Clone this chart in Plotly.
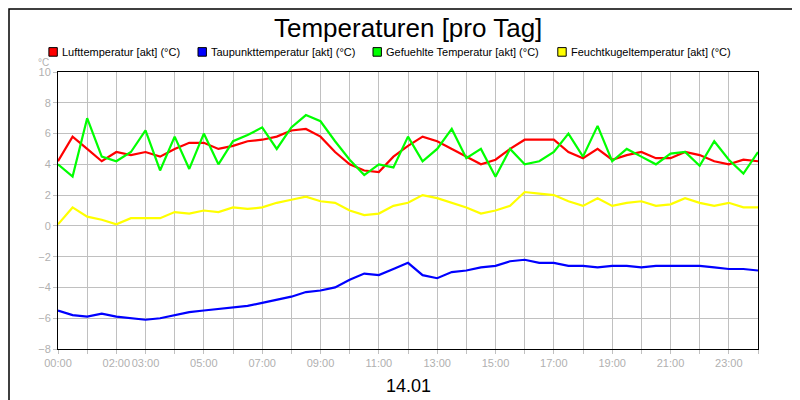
import numpy as np
import plotly.graph_objects as go

hours = np.arange(0, 24.01, 0.5)

luft = [4.2, 5.8, 5.0, 4.2, 4.8, 4.6, 4.8, 4.5, 5.0, 5.4, 5.4, 5.0, 5.2, 5.5, 5.6, 5.8, 6.2,
        6.3, 5.8, 4.8, 4.0, 3.6, 3.5, 4.5, 5.2, 5.8, 5.5, 5.0, 4.5, 4.0, 4.3, 5.0, 5.6, 5.6,
        5.6, 4.8, 4.4, 5.0, 4.3, 4.6, 4.8, 4.4, 4.4, 4.8, 4.6, 4.2, 4.0, 4.3, 4.2]
taupunkt = [-5.5, -5.8, -5.9, -5.7, -5.9, -6.0, -6.1, -6.0, -5.8, -5.6, -5.5, -5.4, -5.3,
            -5.2, -5.0, -4.8, -4.6, -4.3, -4.2, -4.0, -3.5, -3.1, -3.2, -2.8, -2.4, -3.2,
            -3.4, -3.0, -2.9, -2.7, -2.6, -2.3, -2.2, -2.4, -2.4, -2.6, -2.6, -2.7, -2.6,
            -2.6, -2.7, -2.6, -2.6, -2.6, -2.6, -2.7, -2.8, -2.8, -2.9]
gefuehlt = [4.0, 3.2, 7.0, 4.5, 4.2, 4.8, 6.2, 3.6, 5.8, 3.7, 6.0, 4.0, 5.5, 5.9, 6.4, 5.0,
            6.4, 7.2, 6.8, 5.5, 4.3, 3.3, 4.0, 3.8, 5.8, 4.2, 5.0, 6.3, 4.4, 5.0, 3.2, 5.0,
            4.0, 4.2, 4.8, 6.0, 4.5, 6.5, 4.2, 5.0, 4.5, 4.0, 4.7, 4.8, 3.9, 5.5, 4.3, 3.4, 4.8]
feucht = [0.1, 1.2, 0.6, 0.4, 0.1, 0.5, 0.5, 0.5, 0.9, 0.8, 1.0, 0.9, 1.2, 1.1, 1.2, 1.5,
          1.7, 1.9, 1.6, 1.5, 1.0, 0.7, 0.8, 1.3, 1.5, 2.0, 1.8, 1.5, 1.2, 0.8, 1.0, 1.3,
          2.2, 2.1, 2.0, 1.6, 1.3, 1.8, 1.3, 1.5, 1.6, 1.3, 1.4, 1.8, 1.5, 1.3, 1.5, 1.2, 1.2]

tick_hours = [0, 2, 3, 5, 7, 9, 11, 13, 15, 17, 19, 21, 23]
tick_text = ["%02d:00" % h for h in tick_hours]

series = [
    ("Lufttemperatur [akt] (°C)", luft, "#ff0000"),
    ("Taupunkttemperatur [akt] (°C)", taupunkt, "#0000ff"),
    ("Gefuehlte Temperatur [akt] (°C)", gefuehlt, "#00ff00"),
    ("Feuchtkugeltemperatur [akt] (°C)", feucht, "#ffff00"),
]
draw_order = [3, 1, 0, 2]
legend_x = [-0.013, 0.2, 0.45, 0.714]  # paper x of legend squares

fig = go.Figure()
for i in draw_order:
    name, vals, col = series[i]
    fig.add_trace(go.Scatter(x=hours, y=vals, mode="lines", name=name,
                             line=dict(color=col, width=2.2), showlegend=False))

shapes = [dict(type="rect", xref="paper", yref="paper", x0=-0.07, x1=1.07, y0=-0.209, y1=1.227,
               line=dict(color="black", width=1.5))]
annotations = [
    dict(text="Temperaturen [pro Tag]", xref="paper", yref="paper", x=0.5, y=1.16, showarrow=False,
         yanchor="middle", font=dict(size=26, color="black")),
    dict(text="°C", xref="paper", yref="paper", x=-0.01, y=1.06, showarrow=False,
         xanchor="right", font=dict(size=10, color="#b0b0b0")),
    dict(text="14.01", xref="paper", yref="paper", x=0.5, y=-0.135, showarrow=False,
         yanchor="middle", font=dict(size=18, color="black")),
]
for (name, vals, col), lx in zip(series, legend_x):
    shapes.append(dict(type="rect", xref="paper", yref="paper", x0=lx, x1=lx + 0.012,
                       y0=1.057, y1=1.088, fillcolor=col, line=dict(color="black", width=1)))
    annotations.append(dict(text=name, xref="paper", yref="paper", x=lx + 0.016, y=1.072,
                            xanchor="left", yanchor="middle", showarrow=False,
                            font=dict(size=11, color="black")))

fig.update_layout(
    width=800, height=400,
    margin=dict(l=50, r=50, t=64, b=59),
    paper_bgcolor="white", plot_bgcolor="white",
    font=dict(family="Liberation Sans, Arial", color="black"),
    showlegend=False,
    xaxis=dict(range=[0, 24], tickvals=tick_hours, ticktext=tick_text, tickangle=0, showgrid=True,
               gridcolor="#c0c0c0", showline=True, linecolor="black", mirror=True,
               ticks="outside", ticklen=4, tickcolor="#c0c0c0", zeroline=False,
               tickfont=dict(size=11, color="#b0b0b0"),
               minor=dict(dtick=1, showgrid=True, gridcolor="#c0c0c0", ticks="outside",
                          ticklen=4, tickcolor="#c0c0c0")),
    yaxis=dict(range=[-8, 10], dtick=2, showgrid=True, gridcolor="#c0c0c0", showline=True,
               linecolor="black", mirror=True, ticks="outside", ticklen=4, tickcolor="#c0c0c0",
               zeroline=False, tickfont=dict(size=11, color="#b0b0b0")),
    shapes=shapes,
    annotations=annotations,
)

fig.write_html("out.html")
